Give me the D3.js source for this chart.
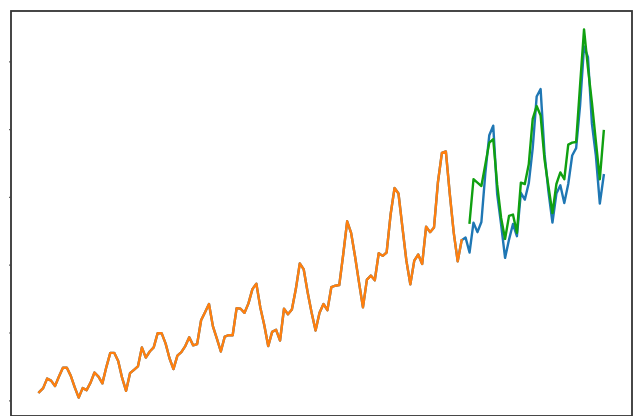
<!DOCTYPE html>
<html>
<head>
<meta charset="utf-8">
<script src="https://cdn.jsdelivr.net/npm/d3@7"></script>
<style>
  html, body { margin: 0; padding: 0; background: #ffffff; }
  svg { display: block; }
</style>
</head>
<body>
<svg id="chart" width="634" height="416"></svg>
<script>
// Monthly airline passengers (thousands), Jan 1949 – Dec 1960
const passengers = [
  112, 118, 132, 129, 121, 135, 148, 148, 136, 119, 104, 118,
  115, 126, 141, 135, 125, 149, 170, 170, 158, 133, 114, 140,
  145, 150, 178, 163, 172, 178, 199, 199, 184, 162, 146, 166,
  171, 180, 193, 181, 183, 218, 230, 242, 209, 191, 172, 194,
  196, 196, 236, 235, 229, 243, 264, 272, 237, 211, 180, 201,
  204, 188, 235, 227, 234, 264, 302, 293, 259, 229, 203, 229,
  242, 233, 267, 269, 270, 315, 364, 347, 312, 274, 237, 278,
  284, 277, 317, 313, 318, 374, 413, 405, 355, 306, 271, 306,
  315, 301, 356, 348, 355, 422, 465, 467, 404, 347, 305, 336,
  340, 318, 362, 348, 363, 435, 491, 505, 404, 359, 310, 337,
  360, 342, 406, 396, 420, 472, 548, 559, 463, 407, 362, 405,
  417, 391, 419, 461, 472, 535, 622, 606, 508, 461, 390, 432
];

// Training portion covers the first 108 months
const trainSize = 108;

// Model output over the test months, starting at month index 109
const predStart = 109;
const predictions = [
  362, 426, 421, 416, 448, 480, 485, 418, 369, 338,
  372, 374, 347, 421, 419, 448, 515, 534, 520, 455,
  415, 376, 419, 436, 426, 477, 480, 481, 565, 647,
  590, 539, 482, 426, 497
];

// Left-axis tick values (labels not shown)
const yTicks = [100, 200, 300, 400, 500, 600];

const box = { left: 11, right: 632, top: 11, bottom: 416 };

const svg = d3.select("#chart");

const n = passengers.length;
const allVals = passengers.concat(predictions);
const yMin = d3.min(allVals), yMax = d3.max(allVals);
const yPad = (yMax - yMin) * 0.05;
const xPad = (n - 1) * 0.05;

const x = d3.scaleLinear()
  .domain([-xPad, (n - 1) + xPad])
  .range([box.left, box.right]);

const y = d3.scaleLinear()
  .domain([yMin - yPad, yMax + yPad])
  .range([box.bottom, box.top]);

const line = d3.line()
  .x(d => x(d.i))
  .y(d => y(d.v));

const actual = passengers.map((v, i) => ({ i, v }));
const train = actual.slice(0, trainSize);
const pred = predictions.map((v, k) => ({ i: predStart + k, v }));

const lineStyle = sel => sel
  .attr("fill", "none")
  .attr("stroke-width", 2.4)
  .attr("stroke-linejoin", "round")
  .attr("stroke-linecap", "square");

const plot = svg.append("g");

// full series, then the training part over it, then the predictions
plot.append("path").datum(actual).attr("d", line)
  .call(lineStyle).attr("stroke", "#1f77b4");
plot.append("path").datum(train).attr("d", line)
  .call(lineStyle).attr("stroke", "#ff7f0e");
plot.append("path").datum(pred).attr("d", line)
  .call(lineStyle).attr("stroke", "#10a010");

// frame
svg.append("rect")
  .attr("x", box.left)
  .attr("y", box.top)
  .attr("width", box.right - box.left)
  .attr("height", box.bottom - box.top)
  .attr("fill", "none")
  .attr("stroke", "#333333")
  .attr("stroke-width", 1.8);

// very short left ticks, sitting on the spine
const yAxis = d3.axisLeft(y).tickValues(yTicks).tickSize(0.8).tickFormat("");
const ag = svg.append("g").attr("transform", `translate(${box.left - 0.9},0)`).call(yAxis);
ag.select(".domain").remove();
ag.selectAll(".tick line").attr("stroke", "#222").attr("stroke-width", 1.2);
</script>
</body>
</html>
